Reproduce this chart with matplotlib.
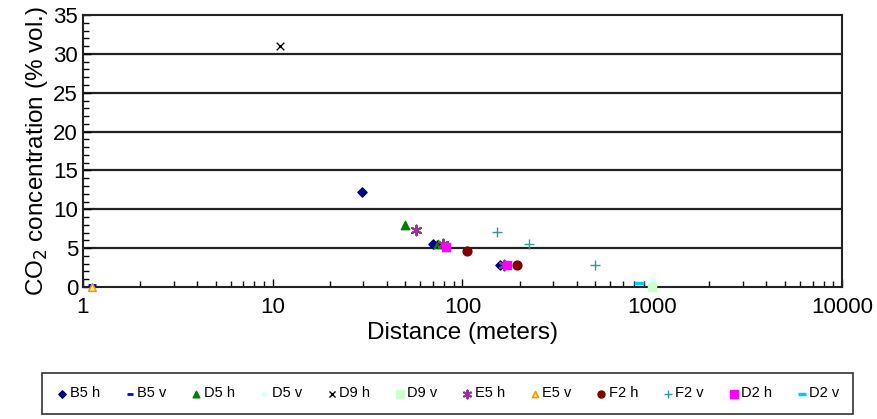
import matplotlib
matplotlib.use("Agg")
import matplotlib.pyplot as plt
import numpy as np

plt.rcParams['font.family'] = ['Liberation Sans', 'DejaVu Sans']

# series: distance (m), CO2 (% vol.)
b5h_x = [29.5, 70, 157]
b5h_y = [12.2, 5.5, 2.8]
b5v_x = [1.12]
b5v_y = [0.2]
d5h_x = [49.8, 74]
d5h_y = [8.0, 5.6]
d5v_x = [1000]
d5v_y = [0.9]
d9h_x = [10.9, 76]
d9h_y = [31.0, 5.6]
d9v_x = [1000]
d9v_y = [0.0]
e5h_x = [56.9, 79, 165]
e5h_y = [7.4, 5.6, 2.8]
e5v_x = [1.12]
e5v_y = [0.0]
f2h_x = [105, 193]
f2h_y = [4.6, 2.8]
f2v_x = [152, 224, 500]
f2v_y = [7.1, 5.5, 2.8]
d2h_x = [82, 171]
d2h_y = [5.1, 2.8]
d2v_x = [850]
d2v_y = [0.5]

fig = plt.figure(figsize=(8.77, 4.19), dpi=100)
ax = fig.add_axes([0.0946, 0.315, 0.8655, 0.649])

ax.set_xscale('log')
ax.set_xlim(1, 10000)
ax.set_ylim(0, 35)
ax.set_yticks(np.arange(0, 36, 5))
ax.set_yticks(np.arange(0, 36, 1), minor=True)
for yv in range(5, 35, 5):
    ax.axhline(yv, color='#222222', lw=1.6, zorder=0)

ax.scatter(b5h_x, b5h_y, marker='D', s=22, color='#000080', label='B5 h', zorder=3)
ax.scatter(b5v_x, b5v_y, marker='_', s=30, color='#0000FF', linewidths=2, label='B5 v', zorder=3)
ax.scatter(d5h_x, d5h_y, marker='^', s=36, color='#008000', label='D5 h', zorder=3)
ax.scatter(d5v_x, d5v_y, marker='D', s=14, color='#DDFFFF', label='D5 v', zorder=2)
ax.scatter(d9h_x, d9h_y, marker='x', s=30, color='black', linewidths=1, label='D9 h', zorder=3)
ax.scatter(d9v_x, d9v_y, marker='s', s=40, color='#CCFFCC', label='D9 v', zorder=3, clip_on=False)
ax.scatter(e5h_x, e5h_y, marker=(6, 2, 0), s=50, color='#993399', linewidths=1.5, label='E5 h', zorder=3)
ax.scatter(e5v_x, e5v_y, marker='^', s=30, facecolor='#FFFF99', edgecolor='#FF9900', linewidths=1.2, label='E5 v', zorder=3, clip_on=False)
ax.scatter(f2h_x, f2h_y, marker='o', s=40, color='#800000', label='F2 h', zorder=3)
ax.scatter(f2v_x, f2v_y, marker='+', s=45, color='#339999', linewidths=1, label='F2 v', zorder=3)
ax.scatter(d2h_x, d2h_y, marker='s', s=40, color='#FF00FF', label='D2 h', zorder=3)
ax.scatter(d2v_x, d2v_y, marker='_', s=60, color='#00CCFF', linewidths=2.5, label='D2 v', zorder=3)

ax.set_xticks([1, 10, 100, 1000, 10000])
ax.set_xticklabels(['1', '10', '100', '1000', '10000'])
ax.tick_params(axis='both', which='both', direction='in', labelsize=16)
ax.tick_params(axis='both', which='major', length=6, width=1)
ax.tick_params(axis='both', which='minor', length=4, width=1)
ax.tick_params(axis='x', pad=7)
for sp in ax.spines.values():
    sp.set_linewidth(1.5)
    sp.set_color('#222222')

ax.set_xlabel('Distance (meters)', fontsize=17.5, labelpad=3)
ax.set_ylabel('CO$_2$ concentration (% vol.)', fontsize=17.5, labelpad=2)

leg = fig.legend(loc='lower center', bbox_to_anchor=(0.51, 0.013), ncol=12,
                 fontsize=10.5, frameon=True, fancybox=False, edgecolor='black',
                 handletextpad=0.0, columnspacing=1.55, handlelength=1.0,
                 borderpad=0.9, borderaxespad=0.0, markerscale=0.8)
leg.get_frame().set_linewidth(1.2)

fig.savefig('out.png', dpi=100)
